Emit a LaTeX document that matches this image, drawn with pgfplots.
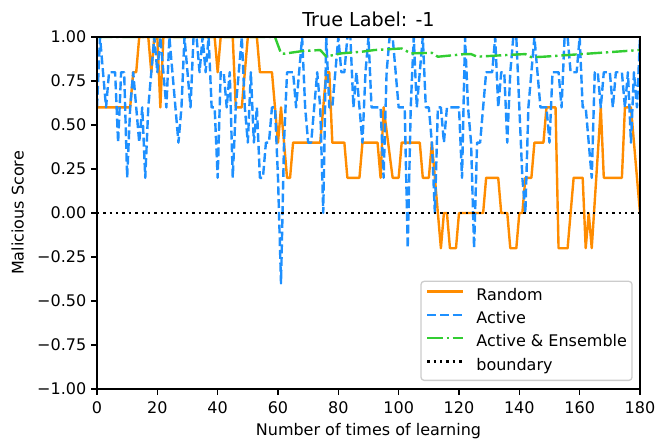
\documentclass[border=0pt]{standalone}
\usepackage{pgfplots}
\pgfplotsset{compat=1.18}
\usepackage{fontspec}
\setmainfont{DejaVu Sans}
\definecolor{mporange}{RGB}{255,140,0}
\definecolor{mpblue}{RGB}{30,144,255}
\definecolor{mpgreen}{RGB}{50,205,50}
\begin{document}
\begin{tikzpicture}
\path[use as bounding box] (-60.625pt,-32.5pt) rectangle (352.5pt,243.125pt);
\begin{axis}[
  at={(0,0)}, anchor=south west,
  scale only axis, width=339.375pt, height=220pt,
  xmin=0, xmax=180, ymin=-1, ymax=1,
  xtick={0,20,...,180},
  ytick={-1,-0.75,-0.5,-0.25,0,0.25,0.5,0.75,1},
  yticklabels={−1.00,−0.75,−0.50,−0.25,0.00,0.25,0.50,0.75,1.00},
  tick align=outside, major tick length=3.5pt,
  xtick pos=left, ytick pos=left,
  tick style={black, line width=0.8pt},
  axis line style={line width=0.8pt},
  axis on top,
  /pgf/number format/assume math mode=true,
  ticklabel style={font=\fontsize{10}{12}\selectfont},
  xticklabel style={anchor=north, inner sep=0pt, yshift=-4.4pt},
  yticklabel style={anchor=east, inner sep=0pt, xshift=-3pt},
  title={True Label: -1},
  every axis title shift=0pt,
  title style={font=\fontsize{12}{14}\selectfont, at={(axis description cs:0.5,1)}, anchor=base, inner sep=0pt, yshift=6.44pt},
  xlabel={Number of times of learning},
  xlabel style={font=\fontsize{10}{12}\selectfont, at={(axis description cs:0.5,0)}, anchor=north, inner sep=0pt, yshift=-21.1pt},
  ylabel={Malicious Score},
  ylabel style={font=\fontsize{10}{12}\selectfont, at={(axis description cs:-0.13525,0.5)}, anchor=base, inner sep=0pt},
  legend image code/.code={\draw[#1] (0pt,2.65pt) -- (22pt,2.65pt);},
  legend cell align=left,
  legend style={at={(1,0)}, anchor=south east, xshift=-4.56pt, yshift=5pt,
    draw=black!20, rounded corners=2pt, line width=0.8pt,
    font=\fontsize{10}{12}\selectfont,
    inner xsep=3.2pt, inner ysep=4.2pt, row sep=4.9pt,
    nodes={inner sep=0pt, text height=7.5pt, text depth=2.2pt},
    /tikz/every odd column/.append style={column sep=7.9pt}},
]
\addplot[mporange, line width=1.5pt, line join=round] coordinates {
(0,0.6)(11,0.6)(12,0.8)(13,0.8)(14,1.0)(17,1.0)(18,0.8)(19,1.0)(20,1.0)(21,0.6)(22,1.0)(39,1.0)(40,0.8)(41,1.0)(45,1.0)(46,0.6)(48,0.6)(49,0.8)(50,1.0)(53,1.0)(54,0.8)(58,0.8)(59,0.6)(60,0.4)(61,0.6)(62,0.4)(63,0.2)(64,0.2)(65,0.4)(74,0.4)(75,0.6)(76,0.8)(77,0.8)(78,0.4)(82,0.4)(83,0.2)(87,0.2)(88,0.4)(93,0.4)(94,0.2)(95,0.6)(98,0.2)(100,0.2)(101,0.4)(107,0.4)(108,0.2)(110,0.2)(111,0.4)(113,0.0)(114,-0.2)(115,0.0)(116,0.0)(117,-0.2)(119,-0.2)(120,0.0)(128,0.0)(129,0.2)(133,0.2)(134,0.0)(136,0.0)(137,-0.2)(139,-0.2)(140,0.0)(141,0.0)(142,0.2)(144,0.2)(145,0.4)(148,0.4)(149,0.6)(152,0.6)(153,-0.2)(156,-0.2)(158,0.2)(161,0.2)(162,-0.2)(163,0.0)(164,-0.2)(167,0.6)(168,0.2)(174,0.2)(175,0.6)(177,0.6)(180,0.0)
};
\addlegendentry{Random}
\addplot[mpblue, line width=1.5pt, line join=round, dash pattern=on 5.55pt off 2.4pt] coordinates {
(0,0.6)(1,1.0)(2,0.8)(3,0.6)(4,0.8)(5,0.8)(6,0.8)(7,0.4)(8,0.8)(9,0.8)(10,0.2)(11,0.6)(12,0.8)(13,0.6)(14,0.4)(15,0.6)(16,0.2)(17,0.6)(18,0.8)(19,1.0)(20,0.8)(21,1.0)(22,0.8)(23,0.6)(24,1.0)(25,0.8)(26,0.6)(27,0.4)(28,0.6)(29,1.0)(30,0.8)(31,0.6)(32,1.0)(33,1.0)(34,0.8)(35,1.0)(36,0.8)(37,1.0)(38,0.6)(39,0.6)(40,0.2)(41,0.8)(42,0.8)(43,0.6)(44,0.8)(45,0.2)(46,0.6)(47,0.8)(48,1.0)(49,0.6)(50,0.4)(51,0.8)(52,0.4)(53,0.6)(54,0.2)(55,0.2)(56,0.4)(57,0.4)(58,0.6)(59,0.6)(60,0.2)(61,-0.4)(62,0.4)(63,0.8)(64,0.8)(65,0.8)(66,0.6)(67,0.8)(68,1.0)(69,0.6)(70,0.4)(71,0.4)(72,0.6)(73,0.8)(74,0.6)(75,0.0)(76,1.0)(77,0.6)(78,0.6)(79,0.8)(80,1.0)(81,0.8)(82,0.8)(83,1.0)(84,1.0)(85,0.6)(86,0.8)(87,0.6)(88,0.4)(89,0.8)(90,1.0)(91,0.6)(92,0.6)(93,0.6)(94,0.6)(95,0.2)(96,0.8)(97,1.0)(98,1.0)(99,0.8)(100,0.6)(101,0.6)(102,0.6)(103,-0.2)(104,0.6)(105,1.0)(106,0.6)(107,0.8)(108,1.0)(109,0.6)(110,0.6)(111,0.4)(112,0.0)(113,0.6)(114,0.6)(115,0.4)(116,0.6)(117,0.6)(118,0.6)(119,0.6)(120,0.6)(121,0.2)(122,1.0)(123,0.6)(124,0.4)(125,-0.2)(126,0.4)(127,0.4)(128,0.6)(129,0.8)(130,0.8)(131,0.8)(132,1.0)(133,0.6)(134,0.8)(135,0.8)(136,0.4)(137,0.8)(138,1.0)(139,1.0)(140,0.6)(141,0.2)(142,0.0)(143,0.6)(144,0.8)(145,1.0)(146,0.8)(147,0.6)(148,0.6)(149,0.6)(150,0.4)(151,0.8)(152,0.8)(153,0.8)(154,0.6)(155,1.0)(156,1.0)(157,0.8)(158,0.8)(159,0.8)(160,1.0)(161,0.6)(162,0.6)(163,0.4)(164,0.2)(165,0.8)(166,0.8)(167,0.6)(168,0.8)(169,0.8)(170,0.8)(171,0.6)(172,0.8)(173,0.8)(174,0.8)(175,0.6)(176,0.8)(177,0.4)(178,0.8)(179,0.6)(180,1.0)
};
\addlegendentry{Active}
\addplot[mpgreen, line width=1.5pt, line join=round, dash pattern=on 9.6pt off 2.4pt on 1.5pt off 2.4pt] coordinates {
(0,1.0)(59,1.0)(61,0.907)(62,0.905)(68,0.92)(74,0.926)(76,0.889)(81,0.907)(88,0.917)(92,0.926)(101,0.935)(104,0.907)(111,0.91)(113,0.888)(122,0.903)(124,0.903)(126,0.888)(135,0.897)(142,0.903)(144,0.885)(148,0.888)(180,0.926)
};
\addlegendentry{Active \& Ensemble}
\addplot[black, line width=1.5pt, dash pattern=on 1.5pt off 2.475pt] coordinates {(0,0)(180,0)};
\addlegendentry{boundary}
\end{axis}
\end{tikzpicture}
\end{document}
